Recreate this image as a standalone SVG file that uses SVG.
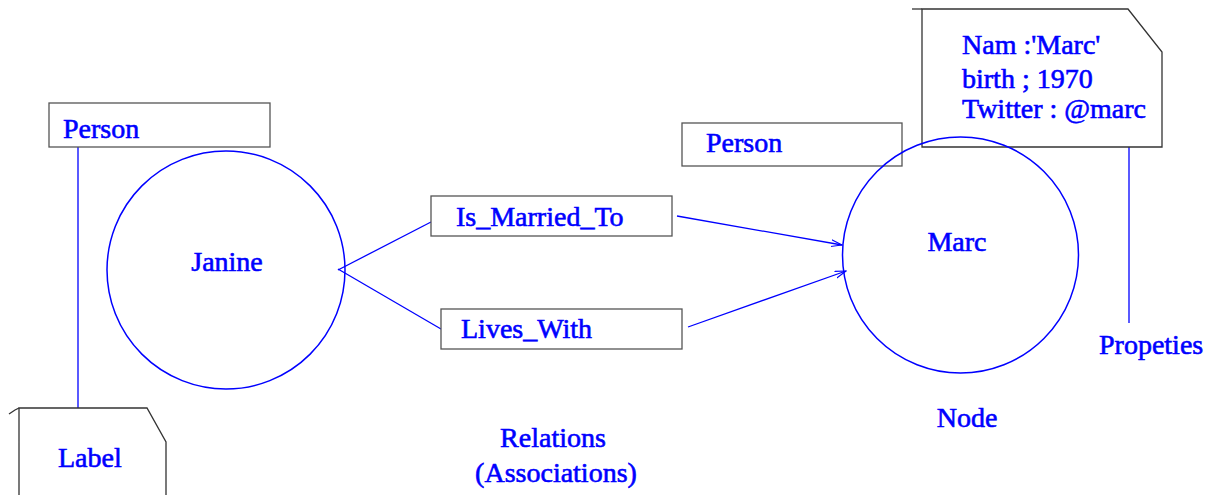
<svg xmlns="http://www.w3.org/2000/svg" width="1211" height="495" viewBox="0 0 1211 495">
<style>
text{font-family:"Liberation Serif","Times New Roman",serif;font-size:28px;fill:#0000ff;stroke:#0000ff;stroke-width:0.6}
.box{fill:#fff;stroke:#555;stroke-width:1.3}
.circ{fill:none;stroke:#0000ff;stroke-width:1.5}
.ln{fill:none;stroke:#0000ff;stroke-width:1.3}
.doc{fill:#fff;stroke:#333;stroke-width:1.3}
.mid{text-anchor:middle}
</style>
<defs>
<marker id="arr" markerWidth="12" markerHeight="10" refX="11" refY="4" orient="auto" markerUnits="userSpaceOnUse">
<path d="M0,0.5 L11,4 L0,7.5" fill="none" stroke="#0000ff" stroke-width="1.1"/>
</marker>
</defs>
<rect width="1211" height="495" fill="#fff"/>
<g id="connectors">
<line class="ln" x1="78" y1="147" x2="78" y2="408"/>
<line class="ln" x1="338" y1="270" x2="431" y2="222"/>
<line class="ln" x1="338" y1="269" x2="441" y2="329"/>
<line class="ln" x1="677" y1="216" x2="842" y2="245" marker-end="url(#arr)"/>
<line class="ln" x1="688" y1="327" x2="846" y2="271" marker-end="url(#arr)"/>
<line class="ln" x1="1129" y1="147" x2="1129" y2="323"/>
</g>
<g id="person-left">
<rect class="box" x="49" y="103" width="221" height="44"/>
<text x="63" y="138">Person</text>
</g>
<g id="label-note">
<path class="doc" d="M19,495 L19,408 L147,408 L166,442 L166,495"/>
<path d="M9,414 L15,410 L19,408" fill="none" stroke="#333" stroke-width="1.3"/>
<text x="58" y="467">Label</text>
</g>
<g id="is-married-to">
<rect class="box" x="431" y="196" width="241" height="40"/>
<text x="456" y="226">Is_Married_To</text>
</g>
<g id="lives-with">
<rect class="box" x="441" y="309" width="241" height="40"/>
<text x="461" y="338">Lives_With</text>
</g>
<g id="relations-label">
<text class="mid" x="553" y="447">Relations</text>
<text class="mid" x="556" y="482">(Associations)</text>
</g>
<g id="person-right">
<rect class="box" x="682" y="123" width="220" height="43"/>
<text x="706" y="152">Person</text>
</g>
<g id="properties-note">
<path class="doc" d="M922,147 L922,9 L1128,9 L1162,52 L1162,147 Z"/>
<line x1="912" y1="9" x2="922" y2="9" stroke="#333" stroke-width="1.3"/>
<text x="962" y="54">Nam :'Marc'</text>
<text x="962" y="88">birth ; 1970</text>
<text x="962" y="118">Twitter : @marc</text>
</g>
<g id="janine">
<circle class="circ" cx="226" cy="270" r="119"/>
<text class="mid" x="227" y="271">Janine</text>
</g>
<g id="marc">
<circle class="circ" cx="960.5" cy="255" r="118"/>
<text class="mid" x="957" y="251">Marc</text>
</g>
<g id="node-label">
<text class="mid" x="967" y="427">Node</text>
</g>
<g id="properties-label">
<text x="1099" y="354">Propeties</text>
</g>
</svg>
